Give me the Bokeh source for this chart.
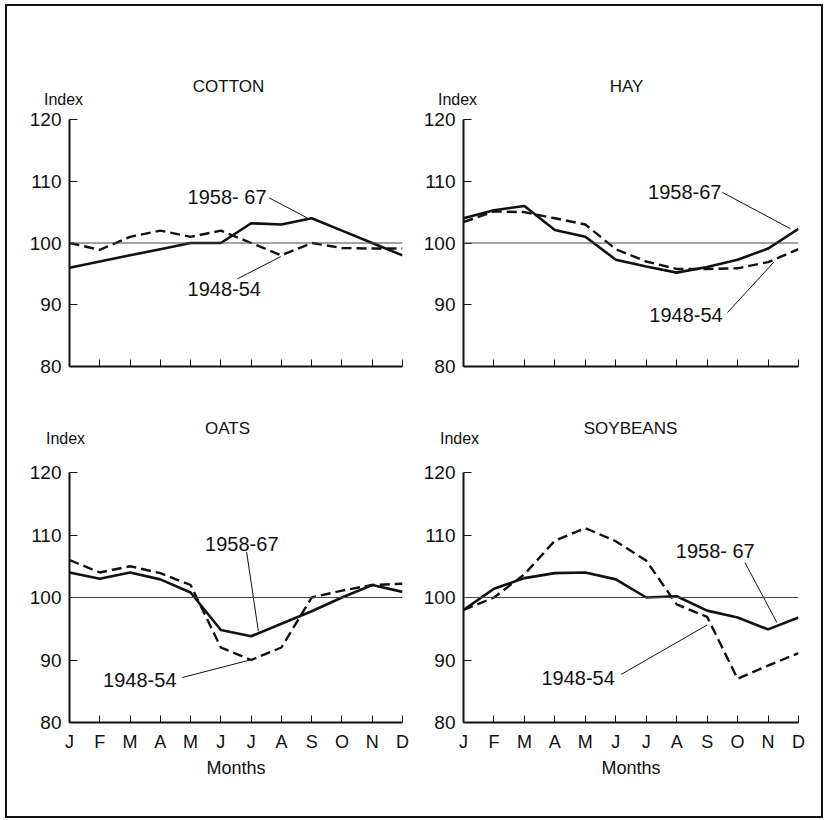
from bokeh.plotting import figure
from bokeh.models import FixedTicker, Span, Label
from bokeh.layouts import column, row
from bokeh.core.properties import value
from bokeh.embed import file_html
from bokeh.resources import INLINE

# ---------------- data ----------------
months = ["J", "F", "M", "A", "M", "J", "J", "A", "S", "O", "N", "D"]
y_ticks = [80, 90, 100, 110, 120]

cotton_5867 = [96, 97, 98, 99, 100, 100, 103.2, 103, 104, 102, 100, 98]
cotton_4854 = [100, 98.9, 101, 102, 101, 102, 100, 98, 100, 99.2, 99.1, 99.1]

hay_5867 = [104, 105.3, 106, 102.1, 101, 97.3, 96.2, 95.2, 96.1, 97.3, 99.1, 102.3]
hay_4854 = [103.4, 105.1, 105, 104, 103, 99, 97, 95.8, 95.8, 95.9, 96.9, 99]

oats_5867 = [104, 103, 104, 102.9, 100.8, 94.8, 93.8, 95.8, 97.8, 100, 102, 100.9]
oats_4854 = [106, 104, 105, 103.9, 102, 92, 90, 92, 100, 101.1, 102, 102.2]

soy_5867 = [98, 101.4, 103.1, 103.9, 104, 102.9, 100, 100.2, 97.9, 96.8, 94.9, 96.8]
soy_4854 = [98, 100, 103.7, 109.1, 111.1, 109, 105.9, 98.9, 96.9, 87, 89.1, 91.1]

titles_top = ["COTTON", "HAY"]
titles_bottom = ["OATS", "SOYBEANS"]
label_old = "1948-54"

FONT = "Liberation Sans"
INK = "#111111"
TOTAL_W = 811


def make_header(height, titles, title_x, title_y, index_x, index_y):
    h = figure(width=TOTAL_W, height=height, x_range=(0, TOTAL_W), y_range=(height, 0),
               min_border=0, toolbar_location=None, output_backend="svg")
    h.axis.visible = False
    h.grid.visible = False
    h.outline_line_color = None
    h.text(x=title_x, y=[title_y] * len(titles), text=titles, text_font=value(FONT),
           text_font_size="17px", text_color=INK, text_align="center",
           text_baseline="middle")
    h.text(x=index_x, y=[index_y] * len(index_x), text=["Index"] * len(index_x),
           text_font=value(FONT), text_font_size="16px", text_color=INK,
           text_align="center", text_baseline="middle")
    return h


def make_panel(new, old, new_text, new_pos, new_leader, old_pos, old_leader,
               frame_w, frame_h, borders, show_months):
    left, right, top, bottom = borders
    xs = list(range(len(months)))
    p = figure(frame_width=frame_w, frame_height=frame_h,
               x_range=(0, 11), y_range=(80, 120),
               min_border_left=left, min_border_right=right,
               min_border_top=top, min_border_bottom=bottom,
               toolbar_location=None, output_backend="svg",
               background_fill_color="white", border_fill_color="white")
    p.outline_line_color = None
    p.grid.visible = False

    # axes
    p.yaxis.ticker = FixedTicker(ticks=y_ticks)
    p.yaxis.major_label_overrides = {t: str(t) for t in y_ticks}
    p.yaxis.minor_tick_line_color = None
    p.yaxis.major_tick_in = 8
    p.yaxis.major_tick_out = 0
    p.yaxis.major_label_standoff = 8
    p.yaxis.major_label_text_font = FONT
    p.yaxis.major_label_text_font_size = "19px"
    p.yaxis.major_label_text_color = INK
    p.yaxis.axis_line_width = 2
    p.yaxis.axis_line_color = INK
    p.yaxis.major_tick_line_color = INK

    p.xaxis.ticker = FixedTicker(ticks=xs)
    p.xaxis.minor_tick_line_color = None
    p.xaxis.major_tick_in = 7
    p.xaxis.major_tick_out = 0
    p.xaxis.axis_line_width = 2
    p.xaxis.axis_line_color = INK
    p.xaxis.major_tick_line_color = INK
    p.xaxis.major_label_text_font = FONT
    p.xaxis.major_label_text_font_size = "18px"
    p.xaxis.major_label_text_color = INK
    p.xaxis.major_label_standoff = 9
    if show_months:
        p.xaxis.major_label_overrides = {i: m for i, m in enumerate(months)}
        p.xaxis.axis_label = "Months"
        p.xaxis.axis_label_text_font = FONT
        p.xaxis.axis_label_text_font_size = "18px"
        p.xaxis.axis_label_text_font_style = "normal"
        p.xaxis.axis_label_text_color = INK
        p.xaxis.axis_label_standoff = 3
    else:
        p.xaxis.major_label_overrides = {i: " " for i in xs}
        p.xaxis.major_label_text_font_size = "1px"

    # reference line at 100
    p.add_layout(Span(location=100, dimension="width", line_color="#444444", line_width=1))

    # series
    p.line(xs, old, line_color=INK, line_width=2.4, line_dash="10 5")
    p.line(xs, new, line_color=INK, line_width=2.6)

    # annotations (label text + leader lines)
    p.segment(x0=[new_leader[0], old_leader[0]], y0=[new_leader[1], old_leader[1]],
              x1=[new_leader[2], old_leader[2]], y1=[new_leader[3], old_leader[3]],
              line_color=INK, line_width=1)
    p.add_layout(Label(x=new_pos[0], y=new_pos[1], text=new_text, text_font=FONT,
                       text_font_size="20px", text_color=INK,
                       text_align="left", text_baseline="middle"))
    p.add_layout(Label(x=old_pos[0], y=old_pos[1], text=label_old, text_font=FONT,
                       text_font_size="20px", text_color=INK,
                       text_align="left", text_baseline="middle"))
    return p


header_top = make_header(100, titles_top, [220, 618], 78, [55, 449], 91)
header_bottom = make_header(40, titles_bottom, [219, 622], 8, [57, 451], 18)

p_cotton = make_panel(cotton_5867, cotton_4854, "1958- 67",
                      (3.9, 107.5), (6.6, 107.3, 7.84, 104.1),
                      (3.9, 92.6), (5.55, 94.2, 6.98, 97.8),
                      333, 247, (61, 16, 11, 54), False)
p_hay = make_panel(hay_5867, hay_4854, "1958-67",
                   (6.06, 108.2), (8.5, 108.2, 10.74, 102.3),
                   (6.1, 88.4), (8.67, 88.75, 10.19, 96.9),
                   335, 247, (45, 21, 11, 54), False)
p_oats = make_panel(oats_5867, oats_4854, "1958-67",
                    (4.48, 108.6), (5.85, 107.3, 6.24, 94.6),
                    (1.11, 86.8), (3.73, 87.2, 5.96, 90.0),
                    333, 250, (61, 16, 12, 90), True)
p_soy = make_panel(soy_5867, soy_4854, "1958- 67",
                   (6.97, 107.4), (9.24, 105.6, 10.29, 96.0),
                   (2.56, 87.1), (5.18, 87.7, 8.0, 95.6),
                   335, 250, (45, 21, 12, 90), True)

layout = column(header_top, row(p_cotton, p_hay), header_bottom, row(p_oats, p_soy),
                spacing=0,
                styles={"border": "2px solid #111111", "margin": "4px 0 0 5px",
                        "padding": "2px 2px 4px 1px"})

open("out.html", "w").write(file_html(layout, INLINE))
